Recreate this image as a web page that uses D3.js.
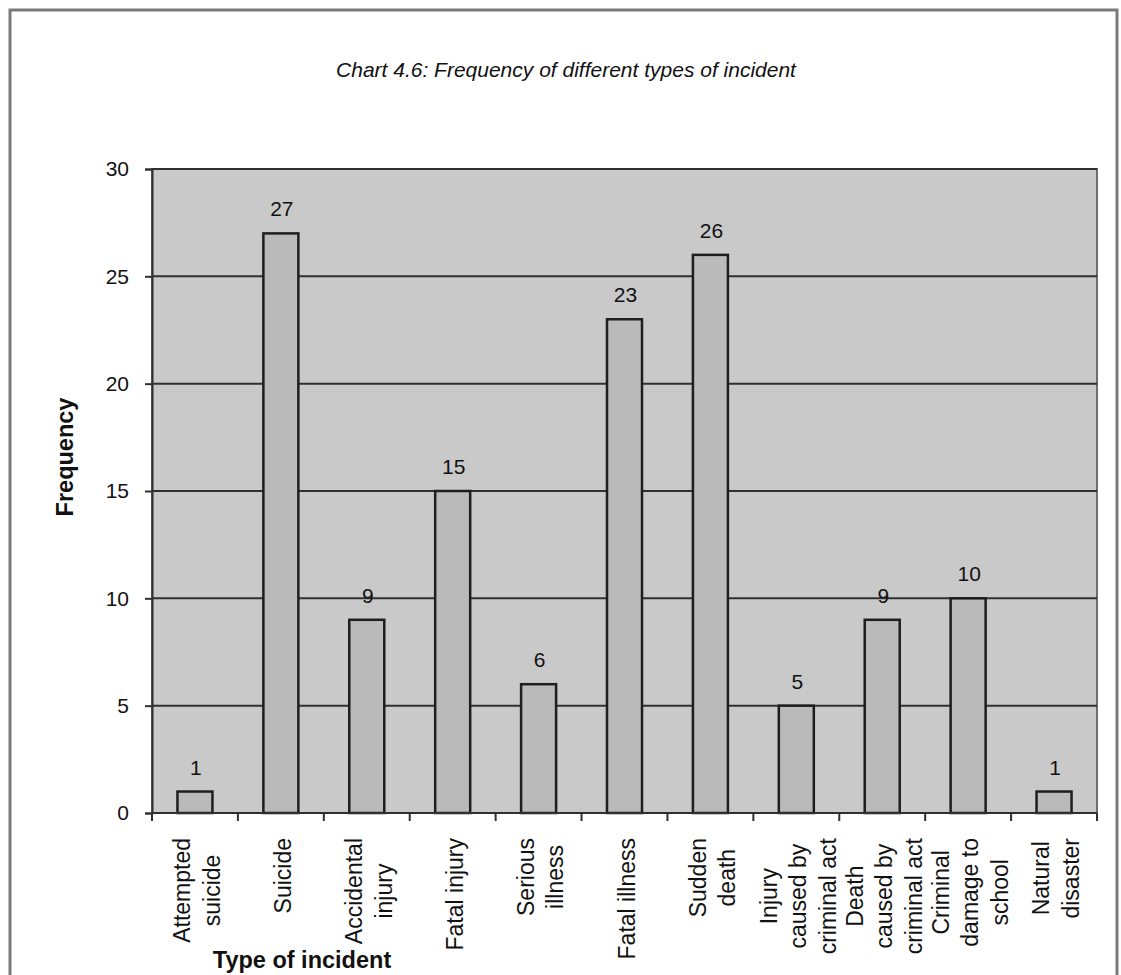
<!DOCTYPE html>
<html>
<head>
<meta charset="utf-8">
<script src="https://cdn.jsdelivr.net/npm/d3@7/dist/d3.min.js"></script>
<style>
  html, body { margin: 0; padding: 0; background: #ffffff; }
  svg { display: block; font-family: Arial, "Liberation Sans", sans-serif; }
</style>
</head>
<body>
<svg id="chart" width="1121" height="975"></svg>
<script>
// Incident categories (each entry is the label's lines)
const categories = [
  ["Attempted", "suicide"],
  ["Suicide"],
  ["Accidental", "injury"],
  ["Fatal injury"],
  ["Serious", "illness"],
  ["Fatal illness"],
  ["Sudden", "death"],
  ["Injury", "caused by", "criminal act"],
  ["Death", "caused by", "criminal act"],
  ["Criminal", "damage to", "school"],
  ["Natural", "disaster"]
];
const frequencies = [1, 27, 9, 15, 6, 23, 26, 5, 9, 10, 1];
const yTicks = [0, 5, 10, 15, 20, 25, 30];
const titleText = "Chart 4.6: Frequency of different types of incident";
const yTitle = "Frequency";
const xTitle = "Type of incident";

const svg = d3.select("#chart");
const plot = { left: 152, right: 1097, top: 169, bottom: 813 };

// Outer chart frame
svg.append("rect")
  .attr("x", 10).attr("y", 10)
  .attr("width", 1107).attr("height", 1000)
  .attr("fill", "#ffffff")
  .attr("stroke", "#7a7a7a").attr("stroke-width", 3);

const xCat = d3.scaleBand()
  .domain(d3.range(categories.length))
  .range([plot.left, plot.right]);

const y = d3.scaleLinear().domain([0, 30]).range([plot.bottom, plot.top]);

// Plot area background
svg.append("rect")
  .attr("x", plot.left).attr("y", plot.top)
  .attr("width", plot.right - plot.left).attr("height", plot.bottom - plot.top)
  .attr("fill", "#c9c9c9")
  .attr("stroke", "#6e6e6e").attr("stroke-width", 2);

// Horizontal gridlines
svg.append("g")
  .selectAll("line")
  .data(yTicks.filter(d => d > 0))
  .join("line")
  .attr("x1", plot.left).attr("x2", plot.right)
  .attr("y1", d => y(d)).attr("y2", d => y(d))
  .attr("stroke", "#303030").attr("stroke-width", 2);

// Bars
svg.append("g")
  .selectAll("rect")
  .data(frequencies)
  .join("rect")
  .attr("x", (d, i) => xCat(i) + xCat.bandwidth() / 2 - 17.5)
  .attr("width", 35)
  .attr("y", d => y(d))
  .attr("height", d => y(0) - y(d))
  .attr("fill", "#bababa")
  .attr("stroke", "#1e1e1e").attr("stroke-width", 2.5);

// Value labels above bars
svg.append("g")
  .selectAll("text")
  .data(frequencies)
  .join("text")
  .attr("x", (d, i) => xCat(i) + xCat.bandwidth() / 2 + 1)
  .attr("y", d => y(d) - 17)
  .attr("text-anchor", "middle")
  .attr("font-size", 21)
  .attr("fill", "#111")
  .text(d => d);

// Y axis
const yAxis = d3.axisLeft(y).tickValues(yTicks).tickSize(7).tickPadding(16).tickFormat(d3.format("d"));
const gy = svg.append("g").attr("transform", `translate(${plot.left},0)`).call(yAxis);
gy.select(".domain").attr("stroke", "#303030").attr("stroke-width", 2);
gy.selectAll(".tick line").attr("stroke", "#303030").attr("stroke-width", 2);
gy.selectAll(".tick text").attr("font-size", 21).attr("font-family", "Arial, 'Liberation Sans', sans-serif").attr("fill", "#111");

// X axis line and category boundary ticks
svg.append("line")
  .attr("x1", plot.left).attr("x2", plot.right)
  .attr("y1", plot.bottom).attr("y2", plot.bottom)
  .attr("stroke", "#303030").attr("stroke-width", 2);
svg.append("g")
  .selectAll("line")
  .data(d3.range(categories.length + 1))
  .join("line")
  .attr("x1", i => i < categories.length ? xCat(i) : plot.right)
  .attr("x2", i => i < categories.length ? xCat(i) : plot.right)
  .attr("y1", plot.bottom).attr("y2", plot.bottom + 8)
  .attr("stroke", "#303030").attr("stroke-width", 2);

// Rotated multi-line category labels
const lineGap = 29.5;
const labelTop = plot.bottom + 25;
categories.forEach((lines, i) => {
  const cx = xCat(i) + xCat.bandwidth() / 2 + 2;
  const g = svg.append("g")
    .attr("transform", `translate(${cx},${labelTop}) rotate(-90)`);
  const texts = lines.map((ln, k) => g.append("text")
    .attr("font-size", 23)
    .attr("fill", "#111")
    .attr("text-anchor", "middle")
    .text(ln));
  const maxW = d3.max(texts, t => t.node().getComputedTextLength());
  const n = lines.length;
  texts.forEach((t, k) => {
    t.attr("x", -maxW / 2)
     .attr("y", (k - (n - 1) / 2) * lineGap + 8);
  });
});

// Title
svg.append("text")
  .attr("x", 566).attr("y", 77)
  .attr("text-anchor", "middle")
  .attr("font-size", 21).attr("font-style", "italic")
  .attr("fill", "#111")
  .text(titleText);

// Axis titles
svg.append("text")
  .attr("transform", `translate(73,457) rotate(-90)`)
  .attr("text-anchor", "middle")
  .attr("font-size", 23.5).attr("font-weight", "bold")
  .attr("fill", "#111")
  .text(yTitle);

svg.append("text")
  .attr("x", 302).attr("y", 968)
  .attr("text-anchor", "middle")
  .attr("font-size", 23.5).attr("font-weight", "bold")
  .attr("fill", "#111")
  .text(xTitle);
</script>
</body>
</html>
